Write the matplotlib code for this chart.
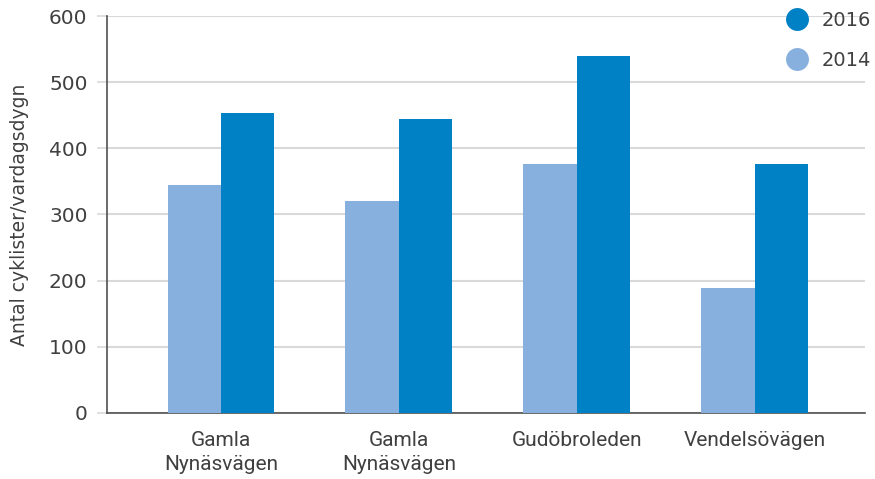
import numpy as np
import matplotlib.pyplot as plt
from matplotlib.lines import Line2D

# Cyklister per vardagsdygn, mätpunkter 2014 och 2016
platser = ['Gamla\nNynäsvägen', 'Gamla\nNynäsvägen', 'Gudöbroleden', 'Vendelsövägen']
cyklister_2014 = [345, 320, 377, 189]
cyklister_2016 = [454, 445, 540, 377]

farg_2014 = '#88b0de'
farg_2016 = '#0080c5'

fig = plt.figure(figsize=(8.75, 4.79), dpi=100)
ax = fig.add_axes([0.1223, 0.1388, 0.8663, 0.8268])

x = np.arange(len(platser))
bredd = 0.30
ax.bar(x - bredd / 2, cyklister_2014, width=bredd, color=farg_2014, zorder=3)
ax.bar(x + bredd / 2, cyklister_2016, width=bredd, color=farg_2016, zorder=3)

ax.set_xlim(-0.64, 3.62)
ax.set_ylim(0, 600)
ax.set_yticks(range(0, 601, 100))
ax.set_xticks(x)
ax.set_xticklabels(platser, family='Roboto', fontsize=15,
                   color='#404040', linespacing=1.35)
ax.tick_params(axis='x', length=0, pad=13)
ax.tick_params(axis='y', length=7, width=1.2, color='#d9d9d9', pad=7,
               labelsize=14.5, labelcolor='#404040')

ax.grid(axis='y', color='#d9d9d9', linewidth=1.5, zorder=0)
for s in ['top', 'right']:
    ax.spines[s].set_visible(False)
for s in ['left', 'bottom']:
    ax.spines[s].set_color('#505050')
    ax.spines[s].set_linewidth(1.2)

ax.set_ylabel('Antal cyklister/vardagsdygn', fontsize=13.5, color='#404040', labelpad=14)

handtag = [Line2D([], [], marker='o', linestyle='none', markersize=16.5,
                  markerfacecolor=farg_2016, markeredgecolor='none'),
           Line2D([], [], marker='o', linestyle='none', markersize=16.5,
                  markerfacecolor=farg_2014, markeredgecolor='none')]
leg = fig.legend(handtag, ['2016', '2014'], loc='upper left',
                 bbox_to_anchor=(0.878, 1.013), frameon=False,
                 handletextpad=0.65, labelspacing=1.05, handlelength=1.2,
                 prop={'family': 'DejaVu Sans', 'size': 14})
for t in leg.get_texts():
    t.set_color('#404040')

fig.savefig('out.png', dpi=100)
